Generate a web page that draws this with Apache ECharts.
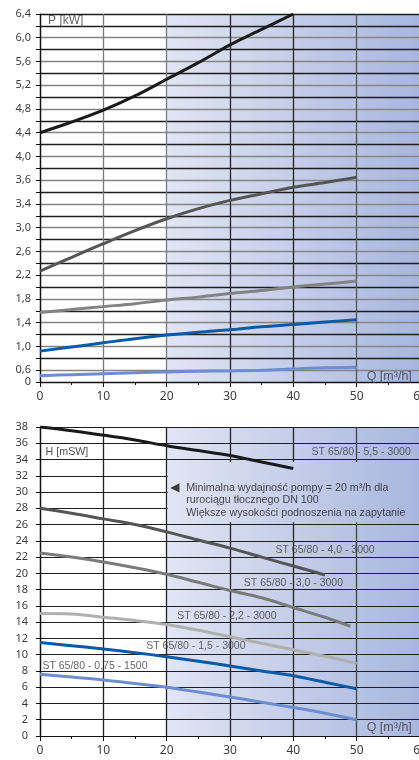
<!DOCTYPE html>
<html><head><meta charset="utf-8">
<script src="https://cdn.jsdelivr.net/npm/echarts@6/dist/echarts.min.js"></script>
<style>html,body{margin:0;padding:0;background:#fff}#c{width:419px;height:760px}</style>
</head><body><div id="c"></div>
<script>
// ---- data ----
const qTicks = ['0','10','20','30','40','50','60'];
const pTickLabels = ['0','0,6','1,0','1,4','1,8','2,2','2,6','3,0','3,4','3,6','4,0','4,4','4,8','5,2','5,6','6,0','6,4'];
const hTickLabels = ['0','2','4','6','8','10','12','14','16','18','20','22','24','26','28','30','32','34','36','38'];

const qP55 = [0,5,10,15,20,25,30,35,40];
const p55  = [4.4,4.58,4.78,5.02,5.3,5.58,5.88,6.14,6.4];
const qP   = [0,5,10,15,20,25,30,35,40,45,50];
const p40  = [2.27,2.5,2.73,2.95,3.15,3.32,3.43,3.485,3.54,3.58,3.65];
const p30  = [1.57,1.62,1.67,1.72,1.78,1.83,1.89,1.94,2.0,2.05,2.1];
const p15  = [0.92,0.99,1.06,1.13,1.19,1.24,1.28,1.33,1.37,1.41,1.45];
const p075 = [0.32,0.37,0.42,0.47,0.51,0.54,0.56,0.59,0.62,0.64,0.65];

const qH55 = [0,5,10,15,20,25,30,35,40];
const h55  = [38,37.55,37.0,36.4,35.7,35.1,34.5,33.7,32.9];
const qH40 = [0,5,10,15,20,25,30,35,40,45];
const h40  = [28,27.4,26.7,26.0,25.1,24.1,23.1,22.0,20.9,19.8];
const qH30 = [0,5,10,15,20,25,30,35,40,45,49];
const h30  = [22.5,22.0,21.4,20.7,19.9,18.9,17.9,17.0,15.8,14.6,13.5];
const qH   = [0,5,10,15,20,25,30,35,40,45,50];
const h22  = [15.05,15.0,14.6,14.2,13.7,13.0,12.2,11.4,10.6,9.8,8.9];
const h15  = [11.5,11.1,10.7,10.25,9.75,9.2,8.6,8.0,7.4,6.6,5.8];
const h075 = [7.6,7.25,6.9,6.45,6.0,5.4,4.8,4.15,3.5,2.8,2.0];

const curveNames = ['ST 65/80 - 5,5 - 3000','ST 65/80 - 4,0 - 3000','ST 65/80 - 3,0 - 3000','ST 65/80 - 2,2 - 3000','ST 65/80 - 1,5 - 3000','ST 65/80 - 0,75 - 1500'];
const noteLines = ['Minimalna wydajność pompy = 20 m³/h dla','rurociągu tłocznego DN 100','Większe wysokości podnoszenia na zapytanie'];

// ---- broken P axis: label values placed on gridline index ----
const pVals = pTickLabels.map(s => parseFloat(s.replace(',', '.')));
const pIdx = pVals.map((v, i) => i === 0 ? 0 : 2 * i - 1);
const pMax = pIdx[pIdx.length - 1];
function pToAxis(v) {
  for (let i = 1; i < pVals.length; i++) {
    if (v <= pVals[i]) {
      const t = (v - pVals[i-1]) / (pVals[i] - pVals[i-1]);
      return pIdx[i-1] + t * (pIdx[i] - pIdx[i-1]);
    }
  }
  return pMax;
}
const zip = (xs, ys) => xs.map((x, i) => [x, ys[i]]);
const zipP = (xs, ys) => xs.map((x, i) => [x, pToAxis(ys[i])]);

const FONT = 'Liberation Sans';
const TXT = '#3c3c3c';
const shade = () => ({
  type: 'linear', x: 0, y: 0, x2: 1, y2: 0,
  colorStops: [{offset: 0, color: '#e1e5f4'}, {offset: 1, color: '#a8b6de'}]
});
const pGridColors = [];
for (let i = 0; i <= pMax; i++) pGridColors.push(i % 2 === 1 && i !== pMax ? '#858585' : '#1e1e1e');

function xAxisFor(gi, vColors) {
  return {
    type: 'value', gridIndex: gi, min: 0, max: 60, interval: 10, z: 2,
    axisLine: {show: true, onZero: false, lineStyle: {color: '#111', width: 1.2}},
    axisTick: {show: true, length: 5, lineStyle: {color: '#111'}},
    minorTick: {show: true, splitNumber: 2, length: 3, lineStyle: {color: '#111'}},
    axisLabel: {color: TXT, fontSize: 12, fontFamily: 'Noto Sans', margin: 9,
      formatter: v => qTicks[Math.round(v / 10)] ?? ''},
    splitLine: {show: true, lineStyle: {color: vColors, width: 1.3}}
  };
}
function curve(gi, data, color, w) {
  return {type: 'line', xAxisIndex: gi, yAxisIndex: gi, data, smooth: 0.35,
    symbol: 'none', silent: true, z: 4,
    lineStyle: {color, width: w || 3, cap: 'butt'}};
}
function texts(gi, items) {
  return {type: 'scatter', xAxisIndex: gi, yAxisIndex: gi, symbolSize: 1, silent: true, z: 5,
    itemStyle: {color: 'rgba(0,0,0,0)'},
    data: items.map(it => ({value: [it[0], it[1]], name: it[2],
      label: Object.assign({show: true, position: 'right', distance: 0, formatter: '{b}',
        color: TXT, fontSize: 10.5, fontFamily: FONT}, it[3] || {})}))};
}
function shadeSeries(gi) {
  return {type: 'line', xAxisIndex: gi, yAxisIndex: gi, data: [], z: 0, silent: true,
    markArea: {silent: true, z: 0, itemStyle: {color: shade()}, data: [[{xAxis: 20}, {xAxis: 60}]]}};
}
// plain panel behind the note (hides the grid there, as in the reference)
function notePanel(gi) {
  return {type: 'line', xAxisIndex: gi, yAxisIndex: gi, data: [], z: 3, silent: true,
    markArea: {silent: true, z: 3, itemStyle: {color: shade()},
      data: [[{coord: [20.15, 26.3]}, {coord: [60, 33.7]}]]}};
}

const option = {
  animation: false,
  backgroundColor: '#fff',
  grid: [
    {left: 40, top: 14, width: 380, height: 368, containLabel: false, outerBoundsMode: 'none'},
    {left: 40, top: 427, width: 380, height: 309, containLabel: false, outerBoundsMode: 'none'}
  ],
  xAxis: [
    xAxisFor(0, ['#111', '#7a7a7a', '#7a7a7a', '#222', '#222', '#555', '#222']),
    xAxisFor(1, ['#111', '#222', '#222', '#222', '#222', '#444', '#222'])
  ],
  yAxis: [
    {type: 'value', gridIndex: 0, min: 0, max: pMax, interval: 1, z: 2,
      axisLine: {show: true, lineStyle: {color: '#111', width: 1.2}},
      axisTick: {show: true, length: 4, lineStyle: {color: '#111'}},
      axisLabel: {color: TXT, fontSize: 11, fontFamily: 'Noto Sans', margin: 9,
        formatter: v => { const k = pIdx.indexOf(Math.round(v)); return k >= 0 ? pTickLabels[k] : ''; }},
      splitLine: {show: true, lineStyle: {color: pGridColors, width: 1.3}}},
    {type: 'value', gridIndex: 1, min: 0, max: 38, interval: 2, z: 2,
      axisLine: {show: true, lineStyle: {color: '#111', width: 1.2}},
      axisTick: {show: true, length: 4, lineStyle: {color: '#111'}},
      axisLabel: {color: TXT, fontSize: 11, fontFamily: 'Noto Sans', margin: 12,
        formatter: v => hTickLabels[Math.round(v / 2)] ?? ''},
      splitLine: {show: true, lineStyle: {color: '#1e1e1e', width: 1}}}
  ],
  series: [
    shadeSeries(0), shadeSeries(1), notePanel(1),
    curve(0, zipP(qP55, p55), '#1a1a1a'),
    curve(0, zipP(qP, p40), '#555555'),
    curve(0, zipP(qP, p30), '#838383'),
    curve(0, zipP(qP, p15), '#0a5aa8'),
    curve(0, zipP(qP, p075), '#6d8dd2'),
    curve(1, zip(qH55, h55), '#1a1a1a'),
    curve(1, zip(qH40, h40), '#555555'),
    curve(1, zip(qH30, h30), '#7a7a7a'),
    curve(1, zip(qH, h22), '#b0b0b0'),
    curve(1, zip(qH, h15), '#0a5aa8'),
    curve(1, zip(qH, h075), '#6d8dd2'),
    texts(0, [
      [1.2, 30.45, 'P [kW]', {fontSize: 12}],
      [51.5, 0.45, 'Q [m³/h]', {fontSize: 12.5}]
    ]),
    texts(1, [
      [0.8, 34.9, 'H [mSW]', {fontSize: 10.7, color: '#222'}],
      [42.8, 34.9, curveNames[0]],
      [37.1, 22.8, curveNames[1]],
      [32.1, 18.8, curveNames[2]],
      [21.6, 14.7, curveNames[3]],
      [16.7, 11.0, curveNames[4]],
      [0.3, 8.6, curveNames[5]],
      [20.5, 30.5, '◀', {fontFamily: 'DejaVu Sans', fontSize: 12, color: '#111'}],
      [23.0, 29.0, noteLines.join('\n'), {fontSize: 10.7, color: '#1a1a1a', lineHeight: 12.5}],
      [51.5, 1.1, 'Q [m³/h]', {fontSize: 12.5}]
    ])
  ]
};
const chart = echarts.init(document.getElementById('c'), null, {renderer: 'canvas'});
chart.setOption(option);
</script>
</body></html>
